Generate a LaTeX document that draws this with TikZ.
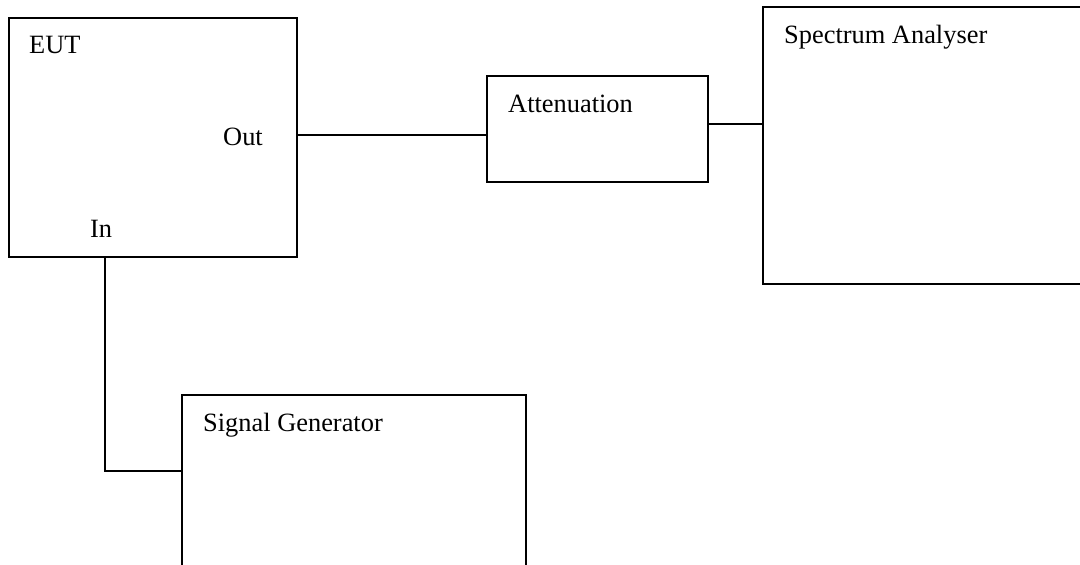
\documentclass[tikz,border=0pt]{standalone}
\usepackage{fontspec}
\setmainfont{Liberation Serif}
\begin{document}
\begin{tikzpicture}[x=1pt,y=-1pt,
  box/.style={draw, line width=1.5pt, rectangle, inner sep=0pt, outer sep=0pt, anchor=north west},
  lbl/.style={anchor=base west, inner sep=0pt, font=\fontsize{26.4}{30}\selectfont},
  wire/.style={line width=1.5pt}]
\useasboundingbox (0,0) rectangle (1080,565);
\clip (0,0) rectangle (1080,565);
\node[box, minimum width=288pt, minimum height=239pt] (eut) at (9,18) {};
\node[box, minimum width=221pt, minimum height=106pt] (att) at (487,76) {};
\node[box, minimum width=340pt, minimum height=277pt] (sa) at (763,7) {};
\node[box, minimum width=344pt, minimum height=205pt] (sg) at (182,395) {};
\node[lbl] (teut) at (29,53) {EUT};
\node[lbl] (tout) at (223,145) {Out};
\node[lbl] (tin) at (90,237) {In};
\node[lbl] (tatt) at (508,112) {Attenuation};
\node[lbl] (tsa) at (784,43) {Spectrum Analyser};
\node[lbl] (tsg) at (203,431) {Signal Generator};
\draw[wire] ([yshift=2.5pt]eut.east) -- ([yshift=2.5pt]eut.east -| att.west);
\draw[wire] ([yshift=5pt]att.east) -- ([yshift=5pt]att.east -| sa.west);
\draw[wire] ([xshift=-48pt]eut.south) |- ([yshift=-76pt]sg.north west);
\end{tikzpicture}
\end{document}
